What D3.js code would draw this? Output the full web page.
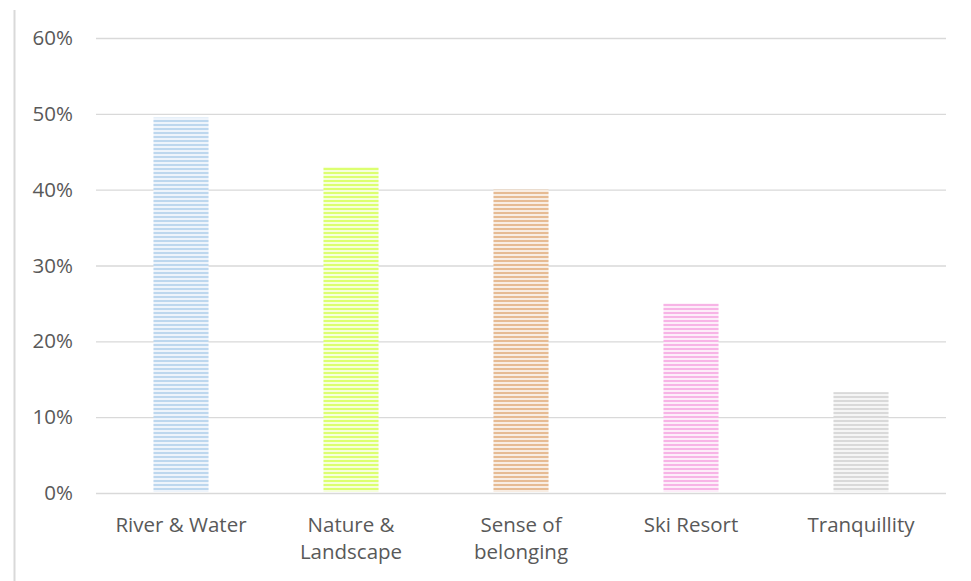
<!DOCTYPE html>
<html>
<head>
<meta charset="utf-8">
<script src="https://cdn.jsdelivr.net/npm/d3@7"></script>
<style>
  html, body { margin: 0; padding: 0; background: #fff; }
  svg { display: block; }
  text { font-family: "Open Sans", "Noto Sans", sans-serif; fill: #595959; }
</style>
</head>
<body>
<svg id="chart" width="971" height="581"></svg>
<script>
const categories = [["River & Water"], ["Nature &", "Landscape"], ["Sense of", "belonging"], ["Ski Resort"], ["Tranquillity"]];
const values = [0.495, 0.43, 0.40, 0.25, 0.133];
const colors = ["#bdd7ee", "#dcff70", "#e6bb93", "#f7b4e6", "#d9d9d9"];
const paleColors = ["#eef4fb", "#f6ffdc", "#f8ede3", "#fdedf9", "#f5f5f5"];
const yTicks = [0, 0.1, 0.2, 0.3, 0.4, 0.5, 0.6];

const svg = d3.select("#chart");
const margin = { left: 96, right: 25, top: 38, bottom: 88 };
const W = 971, H = 581;
const FONT = "'Open Sans', 'Noto Sans', sans-serif";
const FS = 20.5;

const x = d3.scaleBand()
  .domain(d3.range(categories.length))
  .range([margin.left, W - margin.right])
  .paddingInner(0.676)
  .paddingOuter(0.338);

const y = d3.scaleLinear().domain([0, 0.6]).range([H - margin.bottom, margin.top]);

// outer frame edge on the left
svg.append("line")
  .attr("x1", 14.5).attr("x2", 14.5).attr("y1", 10).attr("y2", H)
  .attr("stroke", "#d9d9d9").attr("stroke-width", 2);

// striped fills
const defs = svg.append("defs");
colors.forEach((c, i) => {
  const p = defs.append("pattern")
    .attr("id", "stripe" + i)
    .attr("patternUnits", "userSpaceOnUse")
    .attr("width", 8).attr("height", 4);
  p.append("rect").attr("width", 8).attr("height", 4).attr("fill", paleColors[i]);
  p.append("rect").attr("y", 0).attr("width", 8).attr("height", 2).attr("fill", c);
});

// gridlines
const grid = d3.axisLeft(y).tickValues(yTicks).tickSize(-(W - margin.left - margin.right)).tickFormat("");
svg.append("g")
  .attr("transform", `translate(${margin.left},0)`)
  .call(grid)
  .call(g => g.select(".domain").remove())
  .call(g => g.selectAll("line").attr("stroke", "#d9d9d9").attr("stroke-width", 1.3));

// y labels
const yAxis = d3.axisLeft(y).tickValues(yTicks).tickSize(0).tickPadding(23).tickFormat(d3.format(".0%"));
svg.append("g")
  .attr("transform", `translate(${margin.left},0)`)
  .call(yAxis)
  .call(g => g.select(".domain").remove())
  .call(g => g.selectAll("text").attr("font-size", FS).style("fill", "#595959")
    .style("font-family", FONT));

// bars
svg.append("g").selectAll("rect")
  .data(values)
  .join("rect")
  .attr("x", (d, i) => x(i))
  .attr("width", x.bandwidth())
  .attr("y", d => y(d))
  .attr("height", d => y(0) - y(d) - 1)
  .attr("fill", (d, i) => `url(#stripe${i})`);

// x labels
const xl = svg.append("g").selectAll("text")
  .data(categories)
  .join("text")
  .attr("x", (d, i) => x(i) + x.bandwidth() / 2)
  .attr("y", 532)
  .attr("text-anchor", "middle")
  .attr("font-size", FS)
  .style("font-family", FONT);
xl.selectAll("tspan")
  .data(d => d)
  .join("tspan")
  .attr("x", function () { return this.parentNode.getAttribute("x"); })
  .attr("dy", (d, i) => i === 0 ? 0 : 27)
  .text(d => d);
</script>
</body>
</html>
